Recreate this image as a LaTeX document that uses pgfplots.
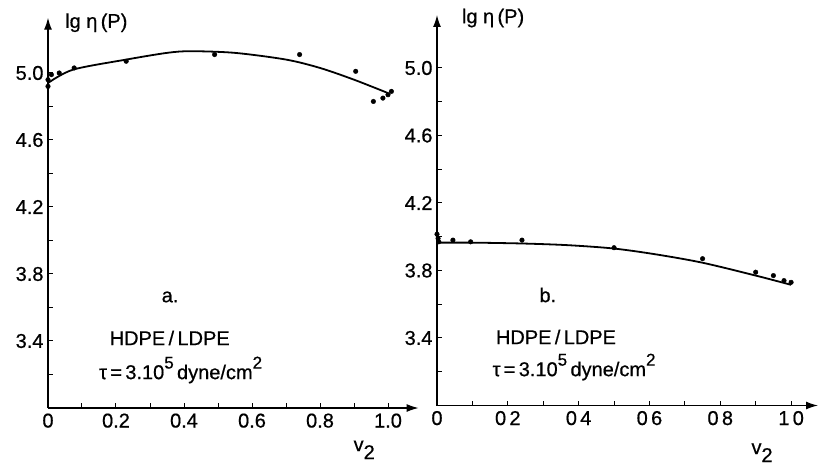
\documentclass[border=0pt]{standalone}
\usepackage{fontspec}
\setmainfont{Liberation Sans}[FakeBold=0.6]
\usepackage{pgfplots}
\pgfplotsset{compat=1.18}
\usetikzlibrary{arrows.meta}

\pgfplotsset{
  panel/.style={
    scale only axis, axis lines=left, clip=false,
    axis line style={line width=1.3pt, -{Latex[length=12pt,width=8pt]}},
    tick align=inside, major tick length=5pt, minor tick length=5pt,
    every tick/.style={line width=1pt, black},
    tick label style={font=\fontsize{20}{22}\selectfont},
    /pgf/number format/assume math mode=true,
    xtick={0,0.2,0.4,0.6,0.8,1.0},
    minor xtick={0.1,0.3,0.5,0.7,0.9},
    ytick={3.4,3.8,4.2,4.6,5.0},
    yticklabels={3.4,3.8,4.2,4.6,5.0},
    minor ytick={3.2,3.6,4.0,4.4,4.8},
    xmin=0, ymin=3.0,
    yticklabel style={xshift=-1pt},
    xticklabel style={yshift=-2pt},
  },
  pts/.style={only marks, mark=*, mark size=2.3pt, black},
  crv/.style={smooth, no marks, line width=1.8pt, black},
}
\tikzset{lbl/.style={font=\fontsize{20}{22}\selectfont, inner sep=0pt}}
\newcommand{\tauline}{τ\,=\,3.10\raisebox{1.0ex}{\fontsize{17}{17}\selectfont 5}\,dyne/cm\raisebox{1.0ex}{\fontsize{17}{17}\selectfont 2}}
\newcommand{\vtwo}{v\raisebox{-8pt}{2}}

\begin{document}
\begin{tikzpicture}
\useasboundingbox (0,0) rectangle (822pt,472pt);

% Panel a
\begin{axis}[panel, at={(48pt,64pt)}, anchor=south west,
  width=370.6pt, height=390.3pt, xmax=1.09, ymax=5.33,
  xticklabels={0,0.2,0.4,0.6,0.8,1.0}]
\addplot[crv] coordinates {
 (0,4.94) (0.074,5.02) (0.23,5.08) (0.35,5.12) (0.42,5.13) (0.55,5.12)
 (0.7,5.08) (0.8,5.03) (0.9,4.96) (1.0,4.88)};
\addplot[pts] coordinates {
 (0,4.96) (0,4.92) (0.01,4.99) (0.033,5.0) (0.077,5.03) (0.23,5.07)
 (0.49,5.11) (0.74,5.11) (0.905,5.01) (0.957,4.83) (0.985,4.85)
 (1.0,4.87) (1.01,4.89)};
\node[lbl, anchor=west] at (axis cs:0.05,5.30) {lg η\,(P)};
\node[lbl] at (axis cs:0.359,3.663) {a.};
\node[lbl] at (axis cs:0.358,3.418) {HDPE\,/\,LDPE};
\node[lbl] at (axis cs:0.39,3.227) {\tauline};
\node[lbl] at (axis cs:0.93,2.75) {\vtwo};
\end{axis}

% Panel b
\begin{axis}[panel, at={(437pt,66.5pt)}, anchor=south west,
  width=381pt, height=390.5pt, xmax=1.076, ymax=5.314,
  xticklabels={0,0\,2,0\,4,0\,6,0\,8,1\,0}]
\addplot[crv] coordinates {
 (0,3.965) (0.1,3.965) (0.24,3.96) (0.37,3.95) (0.5,3.93) (0.62,3.895)
 (0.75,3.846) (0.9,3.77) (1.0,3.715)};
\addplot[pts] coordinates {
 (0,4.015) (0.003,3.99) (0.005,3.97) (0.045,3.98) (0.095,3.97) (0.24,3.98)
 (0.50,3.935) (0.75,3.87) (0.90,3.79) (0.95,3.77) (0.98,3.74) (1.0,3.73)};
\node[lbl, anchor=west] at (axis cs:0.07,5.296) {lg η\,(P)};
\node[lbl] at (axis cs:0.313,3.655) {b.};
\node[lbl] at (axis cs:0.336,3.406) {HDPE\,/\,LDPE};
\node[lbl] at (axis cs:0.387,3.228) {\tauline};
\node[lbl] at (axis cs:0.918,2.72) {\vtwo};
\end{axis}
\end{tikzpicture}
\end{document}
